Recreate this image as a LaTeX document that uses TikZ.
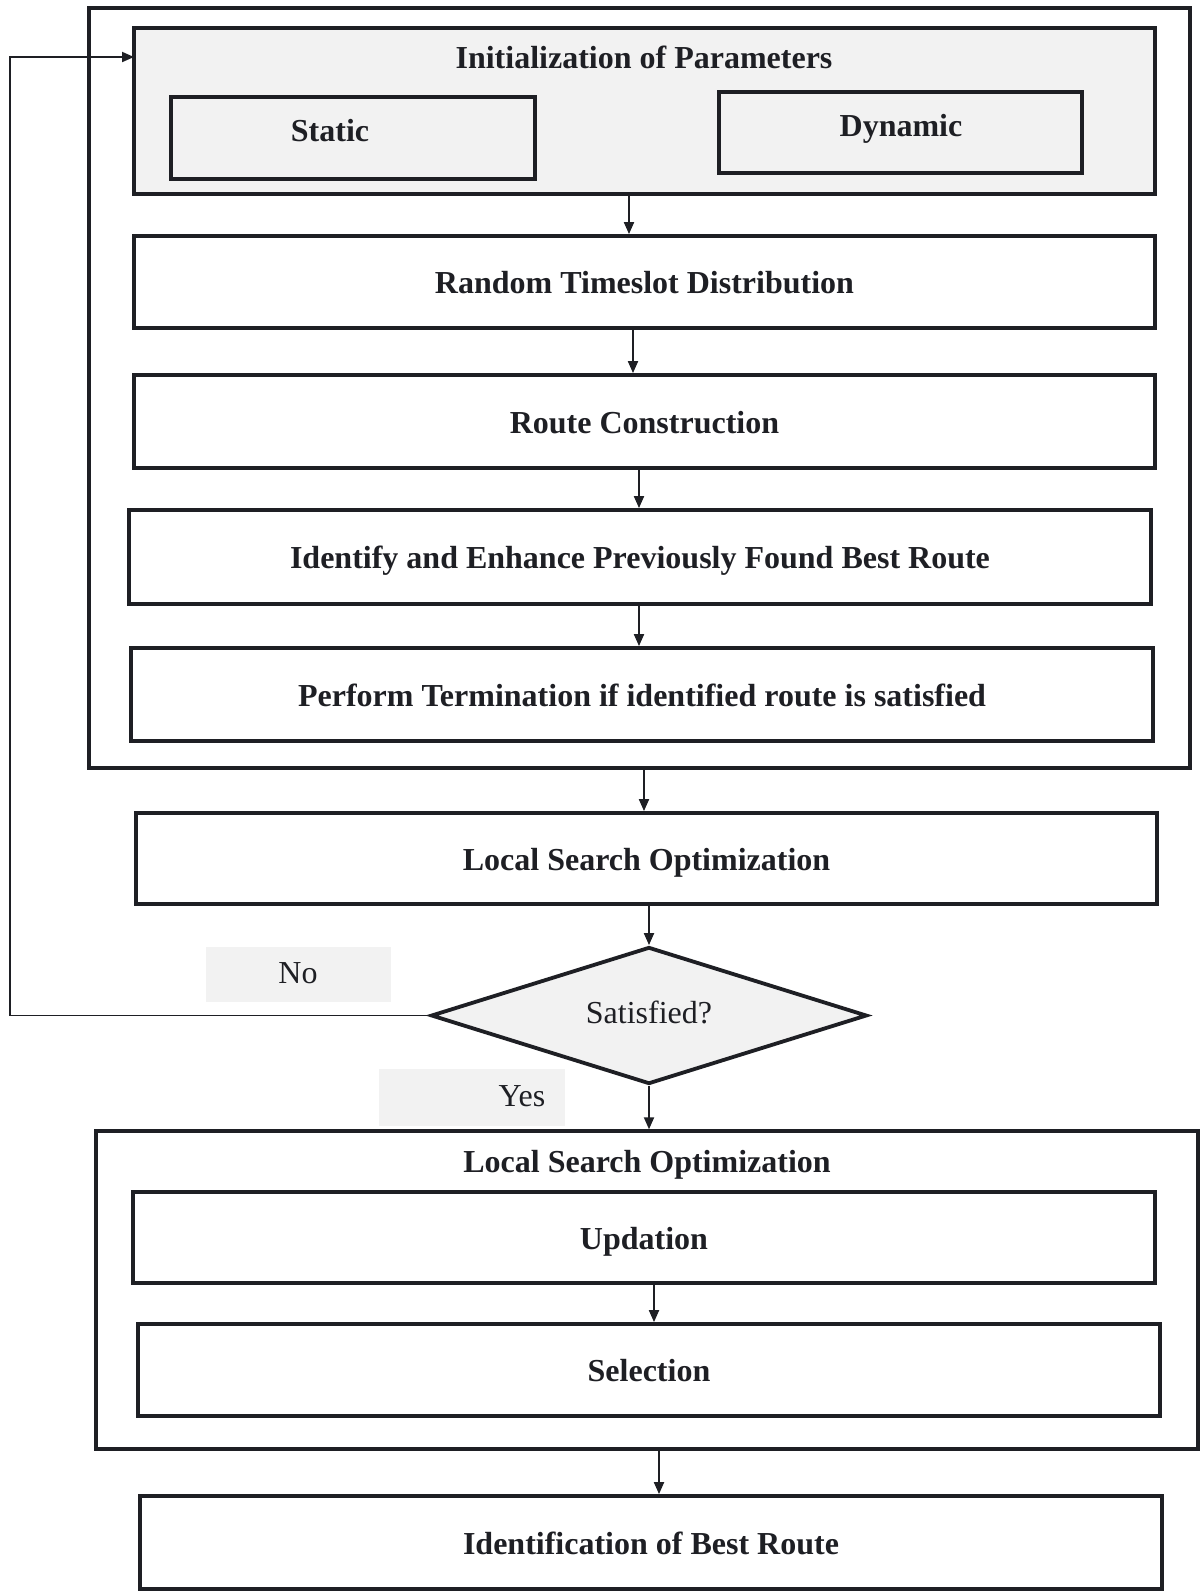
\documentclass[tikz,border=0pt]{standalone}
\usepackage{fontspec}
\setmainfont{Liberation Serif}
\usetikzlibrary{arrows.meta,shapes.geometric}
\definecolor{lgray}{HTML}{F2F2F2}
\definecolor{ink}{HTML}{1E1F24}
\tikzset{
  box/.style={draw=ink, line width=3.8pt, inner sep=0pt, text=ink, text height=23pt, text depth=0pt, font=\fontsize{32}{36}\selectfont\bfseries},
  frame/.style={draw=ink, line width=3.4pt, inner sep=0pt},
  lbl/.style={text=ink, inner sep=0pt, text height=23pt, text depth=0pt, font=\fontsize{32}{36}\selectfont\bfseries},
  plain/.style={text=ink, inner sep=0pt, font=\fontsize{32}{36}\selectfont},
  tag/.style={fill=lgray, draw=none, inner sep=0pt},
  arr/.style={draw=ink, line width=1.9pt, -{Triangle[length=12pt,width=10pt]}},
}
\begin{document}
\begin{tikzpicture}[x=1pt,y=-1pt]
\useasboundingbox[fill=white] (0,0) rectangle (1201,1591);
% upper frame
\node[frame, minimum width=1101pt, minimum height=760pt] (outer) at (639.5,388) {};
\node[box, fill=lgray, minimum width=1021pt, minimum height=166pt] (init) at (644.5,111) {};
\node[lbl] (initt) at (644,57) {Initialization of Parameters};
\node[box, fill=lgray, minimum width=364pt, minimum height=82pt] (static) at (353,138) {};
\node[lbl] (statict) at (330,130) {Static};
\node[box, fill=lgray, minimum width=363pt, minimum height=81pt] (dyn) at (900.5,132.5) {};
\node[lbl] (dynt) at (901,125) {Dynamic};
\node[box, minimum width=1021pt, minimum height=92pt] (rtd) at (644.5,282) {Random Timeslot Distribution};
\node[box, minimum width=1021pt, minimum height=93pt] (rc) at (644.5,421.5) {Route Construction};
\node[box, minimum width=1022pt, minimum height=94pt] (ie) at (640,557) {Identify and Enhance Previously Found Best Route};
\node[box, minimum width=1022pt, minimum height=93pt] (pt) at (642,694.5) {Perform Termination if identified route is satisfied};
% middle
\node[box, minimum width=1021pt, minimum height=91pt] (lso) at (646.5,858.5) {Local Search Optimization};
\node[tag, minimum width=185pt, minimum height=55pt] (notag) at (298.5,974.5) {};
\node[plain] (not) at (298,973) {No};
\node[tag, minimum width=186pt, minimum height=57pt] (yestag) at (472,1097.5) {};
\node[plain] (yest) at (522,1096) {Yes};
\node[draw=ink, line width=3.8pt, fill=lgray, shape=diamond, aspect=3.18, inner sep=0pt,
      minimum width=436pt, minimum height=137pt] (dia) at (649,1015.5) {};
\node[plain] (diat) at (649,1012) {Satisfied?};
% lower frame
\node[frame, minimum width=1102pt, minimum height=318pt] (lower) at (647,1290) {};
\node[lbl] (lowert) at (647,1161) {Local Search Optimization};
\node[box, minimum width=1022pt, minimum height=91pt] (upd) at (644,1237.5) {Updation};
\node[box, minimum width=1022pt, minimum height=92pt] (sel) at (649,1370) {Selection};
\node[box, minimum width=1022pt, minimum height=93pt] (best) at (651,1542.5) {Identification of Best Route};
% connectors
\coordinate (loopx) at (10,0);
\coordinate (loopend) at (134,57);
\draw[arr] (init.south -| 629,0) -- (rtd.north -| 629,0);
\draw[arr] (rtd.south -| 633,0) -- (rc.north -| 633,0);
\draw[arr] (rc.south -| 639,0) -- (ie.north -| 639,0);
\draw[arr] (ie.south -| 639,0) -- (pt.north -| 639,0);
\draw[arr] (outer.south -| 644,0) -- (lso.north -| 644,0);
\draw[arr] (dia.north |- lso.south) -- (dia.north);
\draw[arr] (dia.south) -- (lower.north -| dia.south);
\draw[arr] (upd.south -| 654,0) -- (sel.north -| 654,0);
\draw[arr] (lower.south -| 659,0) -- (best.north -| 659,0);
\draw[arr] (dia.west) -- (dia.west -| loopx) |- (loopend);
\end{tikzpicture}
\end{document}
